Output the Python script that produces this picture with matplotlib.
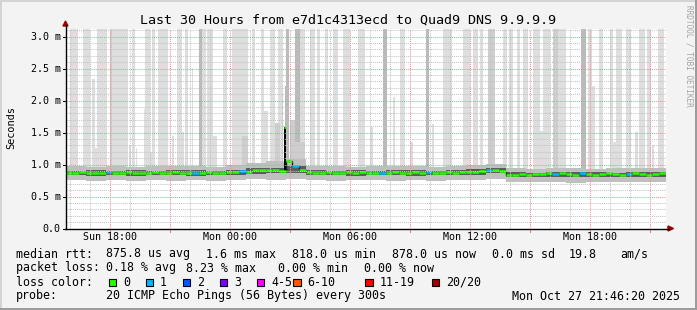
import matplotlib
matplotlib.use("Agg")
import numpy as np
import matplotlib.pyplot as plt
from matplotlib.patches import Rectangle, Polygon
from matplotlib.lines import Line2D
from matplotlib.transforms import blended_transform_factory

# ---- data (hours counted from Sun 15:46:20, 30 hours) ----
# median rtt in ms, 20 minute bins
median = [0.87, 0.86, 0.88, 0.87, 0.86, 0.87, 0.88, 0.86, 0.87, 0.88, 0.87, 0.86,
          0.87, 0.88, 0.87, 0.86, 0.88, 0.87, 0.87, 0.86, 0.87, 0.88, 0.87, 0.87,
          0.88, 0.89, 0.90, 0.89, 0.91, 0.92, 0.92, 0.91, 0.90, 1.05, 0.97, 0.91,
          0.88, 0.87, 0.87, 0.88, 0.86, 0.87, 0.88, 0.87, 0.88, 0.87, 0.87, 0.86,
          0.87, 0.88, 0.87, 0.86, 0.88, 0.87, 0.88, 0.87, 0.86, 0.88, 0.87, 0.88,
          0.88, 0.89, 0.90, 0.91, 0.92, 0.90,
          0.83, 0.84, 0.85, 0.84, 0.85, 0.85, 0.86, 0.85, 0.86, 0.85, 0.84, 0.86,
          0.85, 0.84, 0.85, 0.86, 0.85, 0.84, 0.85, 0.86, 0.85, 0.84, 0.85, 0.86]
# lost pings per bin (mostly 0)
loss = [0] * 90
for i in [6, 19, 26, 34, 47, 54, 63, 73, 77, 84]:
    loss[i] = 1

# single sharp median peak
peak_hour = [10.98]
peak_val = [1.58]

# hourly smoke envelope (ms)
outer_lo = [0.76, 0.75, 0.76, 0.74, 0.76, 0.75, 0.76, 0.75, 0.76, 0.77, 0.76, 0.78,
            0.76, 0.75, 0.76, 0.76, 0.75, 0.76, 0.75, 0.76, 0.76, 0.77,
            0.72, 0.73, 0.72, 0.71, 0.72, 0.73, 0.72, 0.73]
outer_hi = [0.97, 0.96, 0.98, 0.96, 0.97, 0.98, 0.97, 0.96, 1.00, 1.03, 1.06, 1.08,
            0.98, 0.97, 0.96, 0.97, 0.98, 0.97, 0.96, 0.98, 0.99, 1.01,
            0.94, 0.93, 0.95, 0.94, 0.93, 0.94, 0.95, 0.94]
core_lo = [0.83, 0.82, 0.83, 0.82, 0.83, 0.83, 0.82, 0.83, 0.84, 0.85, 0.86, 0.87,
           0.83, 0.83, 0.82, 0.83, 0.83, 0.82, 0.83, 0.83, 0.84, 0.86,
           0.80, 0.81, 0.80, 0.81, 0.80, 0.81, 0.80, 0.81]
core_hi = [0.90, 0.91, 0.90, 0.91, 0.90, 0.91, 0.91, 0.90, 0.92, 0.94, 0.95, 0.97,
           0.91, 0.90, 0.91, 0.90, 0.91, 0.91, 0.90, 0.91, 0.93, 0.94,
           0.88, 0.87, 0.88, 0.89, 0.88, 0.87, 0.88, 0.89]

# smoke reaching past the top of the graph (start, end in hours, density 0-2)
stripe_start = [0.23, 0.88, 1.58, 2.23, 2.33, 2.58, 3.33, 3.98, 4.33, 4.63, 5.58, 5.98,
                6.68, 6.83, 7.08, 7.88, 8.33, 9.33, 9.78, 10.28, 10.63, 11.03, 11.48,
                11.73, 12.23, 12.58, 12.98, 13.38, 13.88, 14.63, 15.88, 16.73, 18.03,
                18.88, 19.88, 20.38, 20.73, 21.13, 21.88, 22.18, 22.58, 22.88, 23.38,
                23.88, 24.38, 24.63, 25.78, 26.13, 26.68, 27.23, 27.53, 28.03, 28.68,
                29.08, 29.63]
stripe_end = [0.63, 1.23, 2.08, 2.33, 2.58, 3.13, 3.48, 4.23, 4.48, 5.13, 5.83, 6.13,
              6.83, 7.03, 7.38, 8.08, 9.13, 9.48, 9.93, 10.48, 10.88, 11.18, 11.73,
              11.98, 12.48, 12.73, 13.13, 13.63, 14.23, 14.98, 16.08, 16.98, 18.18,
              19.33, 20.23, 20.63, 20.88, 21.48, 22.08, 22.38, 22.73, 23.13, 23.73,
              24.23, 24.63, 25.03, 26.03, 26.33, 26.88, 27.38, 27.83, 28.28, 28.98,
              29.28, 29.93]
stripe_shade = [0, 0, 0, 1, 0, 0, 0, 0, 0, 0, 0, 0,
                2, 0, 0, 0, 0, 0, 0, 0, 0, 2, 2,
                0, 0, 0, 0, 0, 0, 0, 2, 0, 2,
                0, 0, 0, 0, 1, 0, 0, 0, 0, 0,
                0, 1, 0, 2, 0, 0, 0, 0, 0, 0,
                0, 0]

# smoke spikes inside the graph (start, end in hours, top in ms, density)
spike_start = [1.33, 1.43, 2.33, 3.18, 3.53, 3.93, 4.18, 4.88, 5.33, 5.78, 6.33, 7.38,
               8.83, 9.88, 10.48, 10.83, 10.98, 11.23, 11.48, 15.23, 16.38, 17.23,
               18.33, 20.38, 23.63, 26.13, 26.33, 27.38, 28.48, 29.33]
spike_end = [1.48, 1.58, 2.58, 3.28, 3.58, 4.03, 4.33, 4.98, 5.43, 5.93, 6.38, 7.58,
             9.13, 10.13, 10.73, 10.88, 11.03, 11.48, 11.98, 15.38, 16.48, 17.38,
             18.43, 20.58, 23.88, 26.18, 26.48, 27.58, 28.63, 29.43]
spike_top = [2.34, 1.25, 1.25, 1.30, 1.25, 1.87, 1.20, 1.22, 1.45, 1.50, 2.50, 1.45,
             1.45, 1.84, 1.65, 2.10, 2.23, 1.70, 1.35, 1.58, 2.05, 1.35,
             1.64, 1.35, 1.53, 1.95, 2.23, 1.35, 1.50, 1.30]
spike_shade = [0, 0, 0, 0, 0, 0, 0, 0, 0, 0, 0, 0,
               1, 0, 1, 1, 2, 1, 1, 0, 0, 0,
               0, 0, 0, 0, 0, 0, 0, 0]

y_ticks = [0.0, 0.5, 1.0, 1.5, 2.0, 2.5, 3.0]
y_labels = ["0.0", "0.5 m", "1.0 m", "1.5 m", "2.0 m", "2.5 m", "3.0 m"]
x_label_text = ["Sun 18:00", "Mon 00:00", "Mon 06:00", "Mon 12:00", "Mon 18:00"]
first_full_hour = 2.2278  # Sun 18:00 as hours after start

loss_names = ["0", "1", "2", "3", "4-5", "6-10", "11-19", "20/20"]
loss_colors = ["#26ff00", "#00b8ff", "#0059ff", "#7e00ff", "#ff00ff", "#ff5500", "#ff0000", "#a10000"]

# ---- figure ----
W, H = 697, 310
MONO = "DejaVu Sans Mono"
fig = plt.figure(figsize=(W / 100, H / 100), dpi=100, facecolor="#f3f3f3")


def fx(x):
    return x / W


def fy(y):
    return 1 - y / H


YTOP = 3.125
ax = fig.add_axes([fx(65.5), fy(228.5), 600 / W, 200 / H])
ax.set_xlim(0, 30)
ax.set_ylim(0, YTOP)
ax.set_facecolor("white")
for s in ax.spines.values():
    s.set_visible(False)
ax.set_xticks([])
ax.set_yticks([])

shade = ["#dedede", "#cecece", "#bababa"]
for s0, s1, sh in zip(stripe_start, stripe_end, stripe_shade):
    ax.bar(s0, YTOP - 0.9, width=s1 - s0, bottom=0.9, align="edge",
           color=shade[sh], lw=0, zorder=1)
for s0, s1, top, sh in zip(spike_start, spike_end, spike_top, spike_shade):
    ax.bar(s0, top - 0.9, width=s1 - s0, bottom=0.9, align="edge",
           color=shade[sh], lw=0, zorder=1.5)

hours = np.arange(31)
ax.stairs(outer_hi, hours, baseline=outer_lo, fill=True, color="#bfbfbf", lw=0, zorder=2)
ax.stairs(core_hi, hours, baseline=core_lo, fill=True, color="#5c5c5c", lw=0, zorder=2.5)

# median line coloured by loss
edges = np.arange(91) / 3
ax.vlines(peak_hour, 0.9, peak_val, color="black", lw=1.4, zorder=3.5)
ax.hlines(peak_val, np.array(peak_hour) - 0.05, np.array(peak_hour) + 0.05,
          color=loss_colors[0], lw=2.0, zorder=4)
ax.stairs(median, edges, baseline=None, color="#202020", lw=1.0, zorder=3)
ax.hlines(median, edges[:-1], edges[1:],
          colors=[loss_colors[l] for l in loss], lw=1.8, zorder=4)

# grid
minor_x = first_full_hour - 2 + np.arange(30)
major_x = first_full_hour + 3 * np.arange(10)
dot = (0, (1, 1))
for x in minor_x:
    if not np.any(np.isclose(x, major_x)):
        ax.axvline(x, color="#c4c4c4", lw=0.75, ls=dot, zorder=6)
for x in major_x:
    ax.axvline(x, color="#f09090", lw=0.75, ls=dot, zorder=6)
for i in range(1, 32):
    y = i / 10
    if i % 5:
        ax.axhline(y, color="#c4c4c4", lw=0.75, ls=dot, zorder=6)
    else:
        ax.axhline(y, color="#f09090", lw=0.75, ls=dot, zorder=6)

# axes with arrows
axis_col = "#000000"
arrow_col = "#a00000"
fig.add_artist(Line2D([fx(65.5), fx(65.5)], [fy(229), fy(25)], color=axis_col, lw=1.0))
fig.add_artist(Line2D([fx(65), fx(669)], [fy(228.5), fy(228.5)], color=axis_col, lw=1.0))
fig.add_artist(Polygon([[fx(63), fy(26)], [fx(68), fy(26)], [fx(65.5), fy(21)]],
                       closed=True, color=arrow_col, transform=fig.transFigure))
fig.add_artist(Polygon([[fx(668), fy(226)], [fx(668), fy(231)], [fx(673.5), fy(228.5)]],
                       closed=True, color=arrow_col, transform=fig.transFigure))

# x tick marks and labels
tx = blended_transform_factory(ax.transData, fig.transFigure)
for x in major_x:
    ax.add_line(Line2D([x, x], [fy(229), fy(231.5)], transform=tx, color="#f08080",
                       lw=0.75, clip_on=False))
for i, lab in enumerate(x_label_text):
    ax.text(major_x[2 * i], fy(240.5), lab, transform=tx, ha="center", va="baseline",
            fontsize=7.2, family=MONO)

ty = blended_transform_factory(fig.transFigure, ax.transData)
for v, lab in zip(y_ticks, y_labels):
    ax.text(fx(60.5), v - 0.055, lab, transform=ty, ha="right", va="baseline",
            fontsize=7.2, family=MONO)
    ax.add_line(Line2D([fx(62.5), fx(65.5)], [v, v], transform=ty, color="black",
                       lw=0.75, clip_on=False))

fig.text(fx(11), fy(128), "Seconds", rotation=90, ha="center", va="center",
         fontsize=7.4, family=MONO)
fig.text(0.5, fy(24), "Last 30 Hours from e7d1c4313ecd to Quad9 DNS 9.9.9.9",
         ha="center", va="baseline", fontsize=9.6, family=MONO)
fig.text(fx(689), fy(5), "RRDTOOL / TOBI OETIKER", rotation=270, ha="center", va="top",
         fontsize=5.6, family=MONO, color="#a4a4a4")

# legend rows
LS = 8.4
rows = [
    (257.5, [(16, "median rtt:"), (106, "875.8 us avg"), (206, "1.6 ms max"),
             (292.3, "818.0 us min"), (392.3, "878.0 us now"), (492.3, "0.0 ms sd"),
             (569, "19.8"), (620.5, "am/s")]),
    (271.5, [(16, "packet loss:"), (106, "0.18 % avg"), (186, "8.23 % max"),
             (278.5, "0.00 % min"), (364.5, "0.00 % now")]),
    (285.5, [(16, "loss color:")]),
    (299.5, [(16, "probe:"), (106, "20 ICMP Echo Pings (56 Bytes) every 300s")]),
]
for y, items in rows:
    for x, s in items:
        fig.text(fx(x), fy(y), s, ha="left", va="baseline", fontsize=LS, family=MONO)
fig.text(fx(680), fy(299.5), "Mon Oct 27 21:46:20 2025", ha="right", va="baseline",
         fontsize=LS, family=MONO)

sq_x = [108.5, 145.5, 182.5, 219.5, 256.5, 293, 365, 431.5]
for x, name, c in zip(sq_x, loss_names, loss_colors):
    fig.add_artist(Rectangle((fx(x), fy(286)), 7.5 / W, 7.5 / H, facecolor=c,
                             edgecolor="black", lw=0.8, transform=fig.transFigure))
    fig.text(fx(x + 14.5), fy(285.5), name, ha="left", va="baseline", fontsize=LS, family=MONO)

# outer frame
fig.add_artist(Rectangle((0, fy(2)), 1, 2 / H, color="#d4d4d4", transform=fig.transFigure, lw=0))
fig.add_artist(Rectangle((0, 0), 2 / W, 1, color="#d4d4d4", transform=fig.transFigure, lw=0))
fig.add_artist(Rectangle((0, 0), 1, 2.5 / H, color="#9c9c9c", transform=fig.transFigure, lw=0))
fig.add_artist(Rectangle((fx(694.5), 0), 2.5 / W, 1, color="#9c9c9c", transform=fig.transFigure, lw=0))

fig.savefig("out.png", dpi=100, facecolor=fig.get_facecolor())
